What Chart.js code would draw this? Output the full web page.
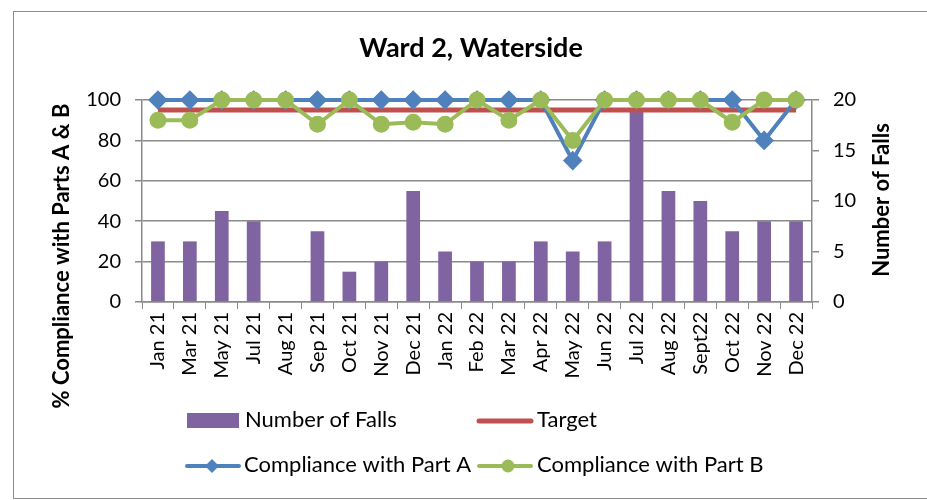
<!DOCTYPE html>
<html>
<head>
<meta charset="utf-8">
<title>Ward 2, Waterside</title>
<script src="https://cdn.jsdelivr.net/npm/chart.js@4.4.1/dist/chart.umd.min.js"></script>
<style>
  html, body { margin: 0; padding: 0; background: #fff; }
</style>
</head>
<body>
<canvas id="myChart" width="927" height="500"></canvas>
<script>
// monthly audit data for the ward
const months = ['Jan 21', 'Mar 21', 'May 21', 'Jul 21', 'Aug 21', 'Sep 21', 'Oct 21', 'Nov 21', 'Dec 21',
    'Jan 22', 'Feb 22', 'Mar 22', 'Apr 22', 'May 22', 'Jun 22', 'Jul 22', 'Aug 22', 'Sept22', 'Oct 22', 'Nov 22', 'Dec 22'];
const falls = [6, 6, 9, 8, 0, 7, 3, 4, 11, 5, 4, 4, 6, 5, 6, 19, 11, 10, 7, 8, 8];
const target = [95, 95, 95, 95, 95, 95, 95, 95, 95, 95, 95, 95, 95, 95, 95, 95, 95, 95, 95, 95, 95];
const partA = [100, 100, 100, 100, 100, 100, 100, 100, 100, 100, 100, 100, 100, 70, 100, 100, 100, 100, 100, 80, 100];
const partB = [90, 90, 100, 100, 100, 88, 100, 88, 89, 88, 100, 90, 100, 80, 100, 100, 100, 100, 89, 100, 100];

const gridGrey = '#8a8a8a';
const tickFont = { family: 'Lato', size: 20 };

const ctx = document.getElementById('myChart');

// title, axis titles, two-row legend and the outer frame
const extras = {
    id: 'extras',
    afterDraw(chart) {
        const c = chart.ctx;
        const ds = chart.data.datasets;
        c.save();

        c.strokeStyle = '#8c8c8c';
        c.lineWidth = 1;
        c.strokeRect(13.5, 11.5, 940, 487);

        c.fillStyle = '#000';
        c.textAlign = 'center';
        c.textBaseline = 'middle';
        c.font = 'bold 27px Lato';
        c.fillText('Ward 2, Waterside', 471, 48);

        c.textBaseline = 'alphabetic';
        c.font = 'bold 22px Lato';
        c.save();
        c.translate(69, 256);
        c.rotate(-Math.PI / 2);
        c.fillText('% Compliance with Parts A & B', 0, 0);
        c.restore();
        c.save();
        c.translate(889, 200);
        c.rotate(-Math.PI / 2);
        c.fillText('Number of Falls', 0, 0);
        c.restore();

        // legend
        c.font = '22px Lato';
        c.textAlign = 'left';
        c.lineCap = 'round';

        c.fillStyle = ds[0].backgroundColor;
        c.fillRect(187, 413, 52, 15);
        c.fillStyle = '#000';
        c.fillText(ds[0].label, 245, 427);

        c.strokeStyle = ds[1].borderColor;
        c.lineWidth = 5;
        c.beginPath(); c.moveTo(479, 421); c.lineTo(531, 421); c.stroke();
        c.fillText(ds[1].label, 537, 427);

        c.strokeStyle = ds[2].borderColor;
        c.lineWidth = 4;
        c.beginPath(); c.moveTo(187, 466); c.lineTo(239, 466); c.stroke();
        c.fillStyle = ds[2].borderColor;
        c.beginPath();
        c.moveTo(212, 459); c.lineTo(219, 466); c.lineTo(212, 473); c.lineTo(205, 466);
        c.closePath(); c.fill();
        c.fillStyle = '#000';
        c.fillText(ds[2].label, 244, 472);

        c.strokeStyle = ds[3].borderColor;
        c.beginPath(); c.moveTo(479, 466); c.lineTo(531, 466); c.stroke();
        c.fillStyle = ds[3].borderColor;
        c.beginPath(); c.arc(508, 466, 6.5, 0, Math.PI * 2); c.fill();
        c.fillStyle = '#000';
        c.fillText(ds[3].label, 537, 472);

        c.restore();
    }
};

const myChart = new Chart(ctx, {
    type: 'bar',
    data: {
        labels: months,
        datasets: [{
            label: 'Number of Falls',
            data: falls,
            yAxisID: 'y1',
            backgroundColor: '#8064A2',
            barPercentage: 0.43,
            categoryPercentage: 1.0,
            order: 4
        }, {
            type: 'line',
            label: 'Target',
            data: target,
            yAxisID: 'y',
            borderColor: '#C0504D',
            backgroundColor: '#C0504D',
            borderWidth: 5,
            pointRadius: 0,
            clip: false,
            order: 3
        }, {
            type: 'line',
            label: 'Compliance with Part A',
            data: partA,
            yAxisID: 'y',
            borderColor: '#4F81BD',
            backgroundColor: '#4F81BD',
            borderWidth: 4,
            pointStyle: 'rectRot',
            pointRadius: 7,
            clip: false,
            order: 2
        }, {
            type: 'line',
            label: 'Compliance with Part B',
            data: partB,
            yAxisID: 'y',
            borderColor: '#9BBB59',
            backgroundColor: '#9BBB59',
            borderWidth: 4,
            pointStyle: 'circle',
            pointRadius: 6.5,
            clip: false,
            order: 1
        }]
    },
    options: {
        responsive: false,
        animation: false,
        layout: { padding: { top: 100, left: 0, right: 0, bottom: 0 } },
        plugins: {
            legend: { display: false },
            tooltip: { enabled: false },
            title: { display: false }
        },
        scales: {
            x: {
                grid: { offset: true, drawOnChartArea: false, color: gridGrey, tickLength: 7 },
                border: { color: gridGrey, width: 1.5 },
                ticks: { minRotation: 90, maxRotation: 90, autoSkip: false, padding: 3, color: '#000', font: tickFont },
                afterFit(scale) { scale.height = 198; }
            },
            y: {
                position: 'left',
                min: 0,
                max: 100,
                ticks: { stepSize: 20, padding: 14, color: '#000', font: tickFont },
                grid: { color: gridGrey, lineWidth: 1.5, tickLength: 7 },
                border: { color: gridGrey, width: 1.5 },
                afterFit(scale) { scale.width = 142; }
            },
            y1: {
                position: 'right',
                min: 0,
                max: 20,
                ticks: { stepSize: 5, padding: 14, color: '#000', font: tickFont },
                grid: { drawOnChartArea: false, color: gridGrey, lineWidth: 1.5, tickLength: 7 },
                border: { color: gridGrey, width: 1.5 },
                afterFit(scale) { scale.width = 115; }
            }
        }
    },
    plugins: [extras]
});
</script>
</body>
</html>
